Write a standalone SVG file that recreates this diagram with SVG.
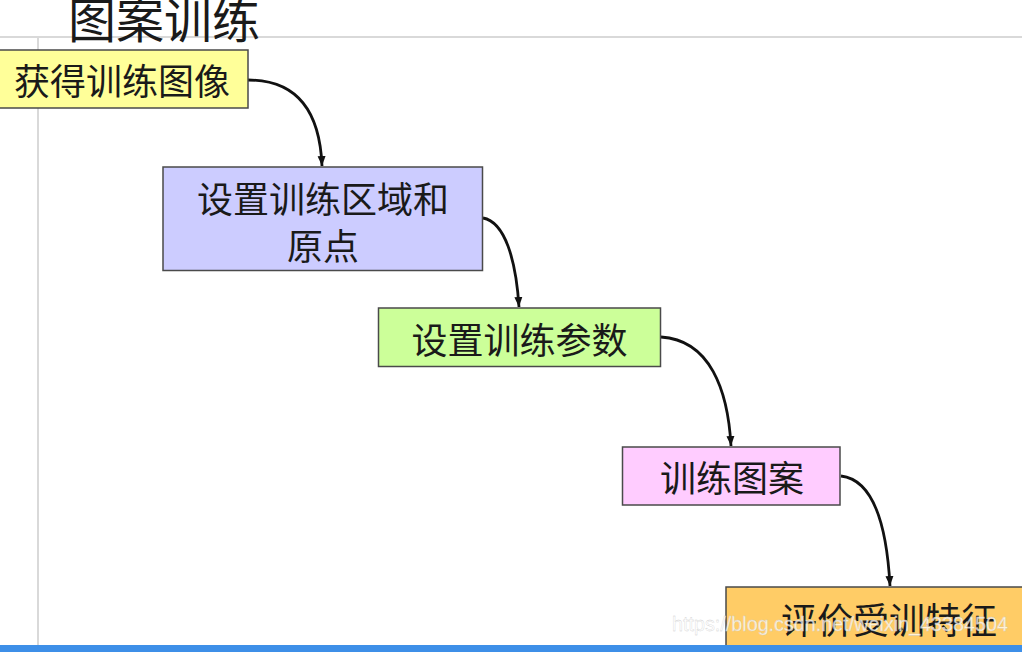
<svg xmlns="http://www.w3.org/2000/svg" width="1022" height="652" viewBox="0 0 1022 652">
<style>
.box{stroke:#4a4a4a;stroke-width:1.5}
.t{font-family:"Liberation Sans","Noto Sans CJK SC",sans-serif;font-size:36px;fill:#1a1a1a}
.title{font-family:"Liberation Sans","Noto Sans CJK SC",sans-serif;font-size:48px;fill:#1a1a1a}
.conn{fill:none;stroke:#111;stroke-width:2.8}
.grid{stroke:#d9d9d9;stroke-width:2}
</style>
<defs>
<marker id="arrow" viewBox="0 0 10 10" refX="10" refY="5" markerWidth="10" markerHeight="11" orient="auto" markerUnits="userSpaceOnUse">
<path d="M0,1 L10,5 L0,9 z" fill="#111"/>
</marker>
</defs>
<rect width="1022" height="652" fill="#ffffff"/>
<line class="grid" x1="0" y1="37" x2="1022" y2="37"/>
<line class="grid" x1="38" y1="37" x2="38" y2="645"/>
<text class="title" x="68" y="38">图案训练</text>
<g id="connectors">
<path class="conn" d="M248,80 C300,80 320,115 322,166" marker-end="url(#arrow)"/>
<path class="conn" d="M483,218 C505,222 516,260 519,307" marker-end="url(#arrow)"/>
<path class="conn" d="M661,337 C710,340 728,390 731,446" marker-end="url(#arrow)"/>
<path class="conn" d="M841,476 C875,480 887,530 890,586" marker-end="url(#arrow)"/>
</g>
<g id="n1">
<rect class="box" x="-2" y="50" width="250" height="58" fill="#ffff99"/>
<text class="t" x="122" y="94.5" text-anchor="middle">获得训练图像</text>
</g>
<g id="n2">
<rect class="box" x="163" y="167" width="319.5" height="103.5" fill="#ccccff"/>
<text class="t" x="323" y="212.5" text-anchor="middle">设置训练区域和</text>
<text class="t" x="323" y="259.5" text-anchor="middle">原点</text>
</g>
<g id="n3">
<rect class="box" x="378.5" y="308" width="282" height="58.5" fill="#ccff99"/>
<text class="t" x="519.5" y="353.5" text-anchor="middle">设置训练参数</text>
</g>
<g id="n4">
<rect class="box" x="622.5" y="447" width="217.5" height="58" fill="#ffccff"/>
<text class="t" x="732" y="491.5" text-anchor="middle">训练图案</text>
</g>
<g id="n5">
<rect class="box" x="726" y="587" width="300" height="60" fill="#ffcc66"/>
<text class="t" x="889" y="633.5" text-anchor="middle">评价受训特征</text>
</g>
<text x="672" y="631" font-family="Liberation Sans, sans-serif" font-size="20" textLength="336" lengthAdjust="spacingAndGlyphs" fill="#ffffff" fill-opacity="0.75" stroke="#cccccc" stroke-width="0.3">https://blog.csdn.net/weixin_43384504</text>
<rect x="0" y="645" width="1022" height="7" fill="#3d8fe8"/>
</svg>
